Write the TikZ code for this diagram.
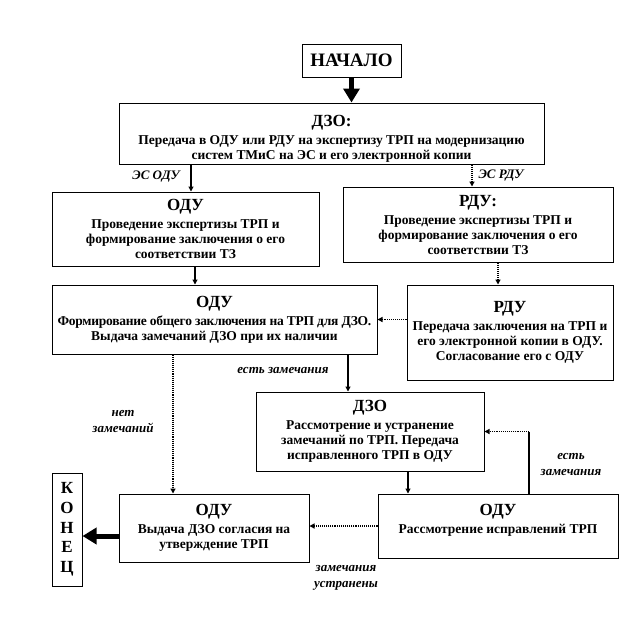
\documentclass[tikz,border=0pt]{standalone}
\usepackage{fontspec}
\setmainfont{Liberation Serif}
\usetikzlibrary{arrows.meta}

\newcommand{\hd}[1]{{\fontsize{17}{19}\selectfont #1}\\[3pt]}

\tikzset{
	blok/.style={draw, line width=1pt, inner sep=0pt, align=center,
		font=\bfseries\fontsize{13.5}{15}\selectfont},
	strelka/.style={line width=1.1pt, -{Triangle[length=5pt,width=5pt]}},
	punktir/.style={strelka, densely dotted, line width=1.6pt},
	tolstaya/.style={line width=5pt, -{Triangle[length=14pt,width=16pt]}},
	metka/.style={font=\bfseries\itshape\fontsize{13}{16}\selectfont, align=center}
}

\begin{document}
\begin{tikzpicture}[x=1pt, y=-1pt]
\useasboundingbox (0,0) rectangle (640,633);

\node[blok, minimum width=99pt, minimum height=33pt,
	font=\bfseries\fontsize{19}{21}\selectfont] (start) at (351.5,60.5) {НАЧАЛО};
\node[blok, minimum width=425pt, minimum height=61pt] (dzo1) at (331.5,133.5)
	{\hd{\rule{0pt}{21pt}ДЗО:}Передача в ОДУ или РДУ на экспертизу ТРП на модернизацию\\систем ТМиС на ЭС и его электронной копии};
\node[blok, minimum width=267pt, minimum height=74pt] (odu1) at (185.5,229)
	{\hd{ОДУ}Проведение экспертизы ТРП и\\формирование заключения о его\\соответствии ТЗ};
\node[blok, minimum width=270pt, minimum height=75pt] (rdu1) at (478,224.5)
	{\hd{РДУ:}Проведение экспертизы ТРП и\\формирование заключения о его\\соответствии ТЗ};
\node[blok, minimum width=325pt, minimum height=69pt] (odu2) at (214.5,319.5)
	{\hd{ОДУ}{\addfontfeature{LetterSpace=-2}Формирование общего заключения на ТРП для ДЗО.}\\Выдача замечаний ДЗО при их наличии};
\node[blok, minimum width=206pt, minimum height=95pt] (rdu2) at (510,332.5)
	{\hd{РДУ}Передача заключения на ТРП и\\его электронной копии в ОДУ.\\Согласование его с ОДУ};
\node[blok, minimum width=228pt, minimum height=79pt] (dzo2) at (370,431.5)
	{\hd{ДЗО}Рассмотрение и устранение\\замечаний по ТРП. Передача\\исправленного ТРП в ОДУ};
\node[blok, minimum width=240pt, minimum height=64pt] (odu4) at (498,526)
	{\hd{ОДУ}Рассмотрение исправлений ТРП\\\mbox{}};
\node[blok, minimum width=190pt, minimum height=68pt] (odu3) at (214,528)
	{\hd{ОДУ}Выдача ДЗО согласия на\\утверждение ТРП};
\node[blok, minimum width=30pt, minimum height=113pt,
	font=\bfseries\fontsize{17}{19.7}\selectfont] (endbox) at (67,529.5) {К\\О\\Н\\Е\\Ц};

\coordinate (esodu) at (191,0);
\coordinate (esrdu) at (472,0);
\coordinate (oduodu) at (195,0);
\coordinate (rdurdu) at (498,0);
\coordinate (netzam) at (173,0);
\coordinate (estzam) at (348,0);
\coordinate (ispr) at (408,0);
\coordinate (povtor) at (529,0);
\coordinate (konec) at (0,536);

\draw[tolstaya] (start.south) -- (start.south |- dzo1.north);
\draw[strelka] (esodu |- dzo1.south) -- (esodu |- odu1.north);
\draw[punktir] (esrdu |- dzo1.south) -- (esrdu |- rdu1.north);
\draw[strelka] (oduodu |- odu1.south) -- (oduodu |- odu2.north);
\draw[punktir] (rdurdu |- rdu1.south) -- (rdurdu |- rdu2.north);
\draw[punktir] (rdu2.west |- odu2.east) -- (odu2.east);
\draw[punktir] (netzam |- odu2.south) -- (netzam |- odu3.north);
\draw[strelka] (estzam |- odu2.south) -- (estzam |- dzo2.north);
\draw[strelka] (ispr |- dzo2.south) -- (ispr |- odu4.north);
\draw[line width=1.1pt] (povtor |- odu4.north) -- (povtor |- dzo2.east);
\draw[punktir] (povtor |- dzo2.east) -- (dzo2.east);
\draw[punktir] (odu4.west) -- (odu4.west -| odu3.east);
\draw[tolstaya] (odu3.west |- konec) -- (endbox.east |- konec);

\node[metka] (lesodu) at (156,177) {ЭС ОДУ};
\node[metka] (lesrdu) at (501,176) {ЭС РДУ};
\node[metka] (lestzam) at (283,371) {есть замечания};
\node[metka] (lnetzam) at (123,422) {нет\\замечаний};
\node[metka] (lpovtor) at (571,465) {есть\\замечания};
\node[metka] (lispr) at (346,578) {замечания\\устранены};
\end{tikzpicture}
\end{document}
